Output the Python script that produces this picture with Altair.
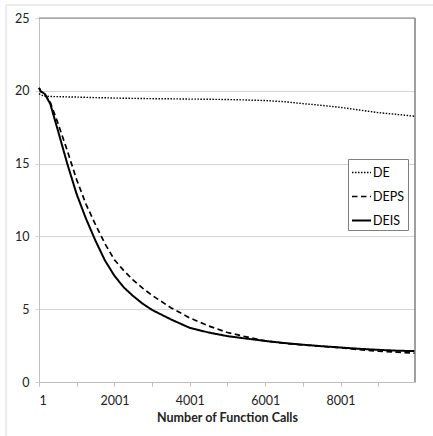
import altair as alt
import pandas as pd

calls = [1, 50, 150, 300, 400, 500, 750, 1000, 1250, 1500, 1750, 2000, 2250, 2500, 2750, 3000,
         3500, 4000, 4500, 5000, 5500, 6000, 6500, 7000, 7500, 8000, 8500, 9000, 9500, 9975]

de = [19.8, 19.72, 19.64, 19.61, 19.6, 19.6, 19.58, 19.57, 19.55, 19.53, 19.52, 19.5, 19.49, 19.48, 19.47, 19.46,
      19.45, 19.43, 19.42, 19.4, 19.37, 19.33, 19.25, 19.12, 19.0, 18.86, 18.68, 18.5, 18.38, 18.25]

deps = [20.2, 19.95, 19.8, 19.2, 18.5, 17.8, 15.9, 13.9, 12.2, 10.8, 9.5, 8.4, 7.65, 7.0, 6.45, 5.95,
        5.1, 4.4, 3.85, 3.4, 3.1, 2.82, 2.66, 2.55, 2.45, 2.35, 2.22, 2.12, 2.05, 1.98]

deis = [20.2, 19.95, 19.8, 19.1, 18.2, 17.3, 15.0, 12.9, 11.2, 9.7, 8.35, 7.3, 6.5, 5.9, 5.38, 4.95,
        4.3, 3.72, 3.4, 3.15, 2.98, 2.82, 2.68, 2.56, 2.46, 2.37, 2.28, 2.21, 2.15, 2.12]

series_names = ["DE", "DEPS", "DEIS"]
x_ticks = [1, 1001, 2001, 3001, 4001, 5001, 6001, 7001, 8001, 9001]
y_ticks = [0, 5, 10, 15, 20, 25]

rows = []
for name, vals in zip(series_names, [de, deps, deis]):
    for c, v in zip(calls, vals):
        rows.append({"calls": c, "value": v, "series": name})
df = pd.DataFrame(rows)

W, H = 376, 364
FONT = "Lato"

lines = alt.Chart(df).mark_line(color="black").encode(
    x=alt.X("calls:Q",
            scale=alt.Scale(domain=[1, 9975], nice=False, zero=False),
            axis=alt.Axis(values=x_ticks, format="d",
                          labelExpr="(datum.value - 1) % 2000 == 0 ? datum.label : ''",
                          title="Number of Function Calls", grid=False,
                          tickSize=4, tickColor="#bfbfbf", domainColor="#bfbfbf",
                          labelPadding=8, titlePadding=5)),
    y=alt.Y("value:Q",
            scale=alt.Scale(domain=[0, 25], nice=False),
            axis=alt.Axis(values=y_ticks, title=None, grid=True, gridColor="#d4d4d4",
                          tickSize=4, tickColor="#d4d4d4", domainColor="#bfbfbf",
                          labelPadding=6)),
    strokeWidth=alt.StrokeWidth("series:N",
                                scale=alt.Scale(domain=series_names, range=[1.4, 2, 2]),
                                legend=None),
    strokeDash=alt.StrokeDash("series:N",
                              scale=alt.Scale(domain=series_names,
                                              range=[[1.5, 1.5], [5.5, 3.5], [1, 0]]),
                              legend=alt.Legend(title=None, orient="none",
                                                legendX=309, legendY=141,
                                                symbolType="stroke", symbolSize=361,
                                                symbolStrokeWidth=2, symbolStrokeColor="black",
                                                strokeColor="#7f7f7f", fillColor="white",
                                                padding=3, rowPadding=7, labelOffset=1,
                                                labelFontSize=12.5, labelFont=FONT,
                                                labelColor="black")),
)

top_border = alt.Chart().mark_rule(color="#7f7f7f", strokeWidth=1).encode(
    x=alt.value(0), x2=alt.value(W), y=alt.value(0))
right_border = alt.Chart().mark_rule(color="#7f7f7f", strokeWidth=1.5).encode(
    x=alt.value(W), y=alt.value(0), y2=alt.value(H))
frame_left = alt.Chart().mark_rule(color="#d9d9d9", strokeWidth=1).encode(
    x=alt.value(-33), y=alt.value(-13), y2=alt.value(H + 60))
frame_top = alt.Chart().mark_rule(color="#d9d9d9", strokeWidth=1).encode(
    x=alt.value(-33), x2=alt.value(W + 30), y=alt.value(-13))

chart = alt.layer(frame_left, frame_top, lines, top_border, right_border).properties(
    width=W, height=H,
    autosize=alt.AutoSizeParams(type="none"),
    padding={"left": 39, "top": 18, "right": 18, "bottom": 54},
    background="white",
).configure_view(stroke=None).configure_axis(
    labelFont=FONT, labelFontSize=12.5, labelColor="#222222",
    titleFont=FONT, titleFontSize=12.5, titleFontWeight="bold", titleColor="#222222",
)

chart.save("out.html", embed_options={"renderer": "svg", "actions": False})
